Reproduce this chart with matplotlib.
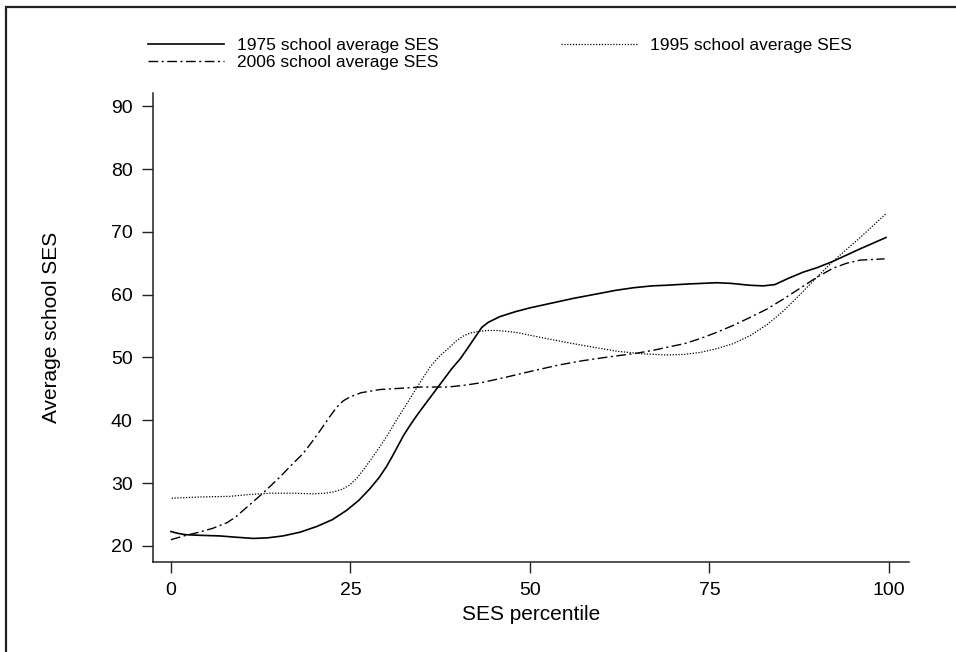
import matplotlib.pyplot as plt
from matplotlib.patches import Rectangle

plt.rcParams["font.family"] = ["Liberation Sans", "DejaVu Sans"]

# values (SES percentile -> average school SES)
x_1975 = [0, 1, 2, 4, 6.8, 9, 11.5, 13.5, 15.6, 18, 20.3, 22.5, 24.5, 26.2,
          27.7, 29, 30, 30.8, 31.6, 32.4, 33.3, 34.2, 35.1, 37.0, 39.1, 40.3,
          41.4, 42.4, 43.3, 44.2, 45.8, 48, 50, 52.8, 56, 59.7, 62, 64.4, 67,
          69, 72, 74, 76, 78, 80.6, 82.5, 84.1, 86, 88.1, 90, 92.2, 96, 99.6]
y_1975 = [22.3, 22.0, 21.8, 21.7, 21.6, 21.4, 21.2, 21.3, 21.6, 22.2, 23.1,
          24.2, 25.7, 27.3, 29.1, 30.9, 32.6, 34.2, 35.9, 37.6, 39.2, 40.7,
          42.1, 45.0, 48.2, 49.8, 51.6, 53.3, 54.8, 55.6, 56.5, 57.3, 57.9,
          58.6, 59.4, 60.2, 60.7, 61.1, 61.4, 61.5, 61.7, 61.8, 61.9, 61.8,
          61.5, 61.4, 61.6, 62.6, 63.6, 64.3, 65.3, 67.3, 69.1]

x_1995 = [0.1, 4, 8.2, 11, 13.8, 17, 19.8, 21.5, 22.6, 23.8, 24.9, 25.9, 26.8,
          28, 29.1, 30.3, 31.4, 32.5, 33.7, 34.9, 36.1, 37.3, 38.6, 39.7, 40.7,
          41.7, 42.6, 44, 45.5, 48.1, 51.5, 55.1, 58.5, 62.1, 65.5, 69, 71.5,
          73.7, 76, 78.3, 80.7, 83, 85.3, 87.6, 90, 92.2, 94.1, 96, 97.8, 99.6]
y_1995 = [27.6, 27.8, 27.9, 28.2, 28.4, 28.4, 28.3, 28.4, 28.6, 29.0, 29.7,
          30.8, 32.1, 34.0, 35.8, 37.9, 40.0, 42.0, 44.2, 46.4, 48.5, 50.1,
          51.4, 52.6, 53.4, 53.9, 54.1, 54.3, 54.3, 54.0, 53.2, 52.4, 51.7,
          51.0, 50.6, 50.4, 50.5, 50.8, 51.4, 52.2, 53.5, 55.2, 57.4, 60.0,
          62.8, 65.3, 67.2, 69.1, 71.0, 72.9]

x_2006 = [0, 1.8, 3.6, 5.8, 7.8, 9, 10.1, 11.5, 12.9, 14, 15.2, 16.8, 18.4,
          19.6, 20.8, 22, 23.1, 24, 24.9, 26.5, 29.1, 32, 34.7, 38.6, 41, 43.3,
          46.8, 50.5, 54, 57.4, 61, 64.4, 67, 69, 71.5, 73.7, 76, 78.3, 80.7,
          83, 85.3, 87.6, 90, 92.2, 94.1, 96, 99.4]
y_2006 = [21.0, 21.6, 22.1, 22.8, 23.7, 24.6, 25.7, 27.1, 28.5, 29.7, 31.0,
          32.9, 34.7, 36.5, 38.4, 40.4, 42.1, 43.1, 43.7, 44.4, 44.9, 45.1,
          45.3, 45.3, 45.6, 46.0, 46.9, 47.9, 48.8, 49.5, 50.1, 50.6, 51.1,
          51.6, 52.2, 53.0, 54.0, 55.1, 56.4, 57.7, 59.3, 61.0, 62.8, 64.2,
          65.0, 65.5, 65.7]

x_ticks = [0, 25, 50, 75, 100]
y_ticks = [20, 30, 40, 50, 60, 70, 80, 90]

fig = plt.figure(figsize=(9.56, 6.52), dpi=100)
ax = fig.add_axes([153 / 956, 1 - 562 / 652, (909 - 153) / 956, (562 - 93) / 652])

l75, = ax.plot(x_1975, y_1975, color="black", lw=1.2, ls="-",
               label="1975 school average SES")
l95, = ax.plot(x_1995, y_1995, color="black", lw=0.9, ls=(0, (1, 1.3)),
               label="1995 school average SES")
l06, = ax.plot(x_2006, y_2006, color="black", lw=1.0, ls=(0, (7, 2.5, 1.5, 2.5)),
               label="2006 school average SES")

ax.set_xlim(-2.5, 102.8)
ax.set_ylim(17.45, 92.1)
ax.set_xticks(x_ticks)
ax.set_yticks(y_ticks)
ax.tick_params(direction="out", length=8, width=1.0, colors="#222222",
               labelsize=14, pad=6.5, labelcolor="black")
for s in ["top", "right"]:
    ax.spines[s].set_visible(False)
for s in ["left", "bottom"]:
    ax.spines[s].set_linewidth(1.1)
    ax.spines[s].set_color("#222222")

ax.set_xlabel("SES percentile", fontsize=15, labelpad=4)
ax.set_ylabel("Average school SES", fontsize=15, labelpad=36)

fig.legend(handles=[l75, l06, l95], ncol=2, frameon=False, fontsize=12.5,
           loc="upper left", bbox_to_anchor=(148 / 956, 1 - 38 / 652),
           borderpad=0, borderaxespad=0, handlelength=4.4, handletextpad=0.75,
           columnspacing=7.0, labelspacing=0.1)

fig.add_artist(Rectangle((6 / 956, -0.5), 2, 1.5 - 7 / 652,
                         transform=fig.transFigure, fill=False,
                         lw=1.6, edgecolor="#222222"))

fig.savefig("out.png", dpi=100)
